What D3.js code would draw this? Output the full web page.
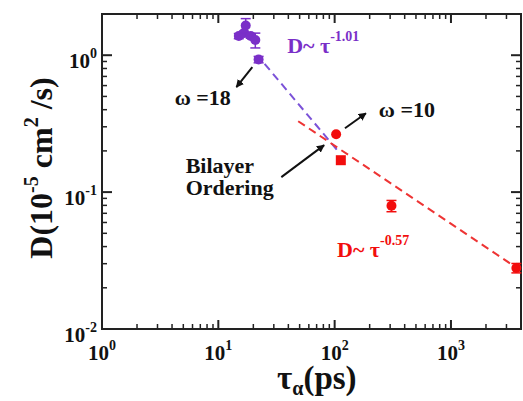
<!DOCTYPE html>
<html>
<head>
<meta charset="utf-8">
<script src="https://cdn.jsdelivr.net/npm/d3@7/dist/d3.min.js"></script>
<style>
  html, body { margin: 0; padding: 0; background: #fff; }
  svg { display: block; }
</style>
</head>
<body>
<svg id="chart" width="523" height="401"></svg>
<script>
// Diffusion coefficient D versus alpha-relaxation time for two systems
const tauPurple = [15.0, 16.6, 17.2, 19.0, 20.8, 22.2];
const dPurple   = [1.38, 1.45, 1.65, 1.38, 1.29, 0.93];
const errPurple = [0.06, 0.05, 0.20, 0.05, 0.16, 0.05];

const tauRed   = [103, 113, 308, 3650];
const dRed     = [0.265, 0.171, 0.0794, 0.0279];
const errRed   = [0, 0, 0.0075, 0.0022];
const shapeRed = ["circle", "square", "circle", "circle"];

// Power-law fits D ~ tau^exponent, drawn over [tauStart, tauEnd]
const fitExponents = [-1.01, -0.57];
const fitLogPrefactor = [1.349, 0.479];
const fitRanges = [[25, 105], [48.6, 3600]];

const xTickValues = [1, 10, 100, 1000];
const xTickExps = ["0", "1", "2", "3"];
const yTickValues = [0.01, 0.1, 1];
const yTickExps = ["-2", "-1", "0"];

const FONT = "'Liberation Serif', 'Times New Roman', serif";
const purple = "#7a2fc8";
const purpleLine = "#7b52d8";
const red = "#f20d0d";
const redLine = "#ee3434";
const ink = "#111";

const svg = d3.select("#chart")
  .style("font-family", FONT).style("font-weight", "bold");
const x = d3.scaleLog().domain([1, 4000]).range([102, 521]);
const y = d3.scaleLog().domain([0.01, 2]).range([329, 14]);

function newText(sel) {
  return sel.append("text").attr("font-family", FONT).attr("font-weight", "bold");
}

// minor tick positions inside the domain
function minorTicks(lo, hi) {
  const out = [];
  for (let e = Math.floor(Math.log10(lo)); e <= Math.ceil(Math.log10(hi)); e++) {
    for (let m = 2; m <= 9; m++) {
      const v = m * Math.pow(10, e);
      if (v > lo && v <= hi) out.push(v);
    }
  }
  return out;
}

const frame = svg.append("g");
const xMin = minorTicks(1, 4000), yMin = minorTicks(0.01, 2);
const tickColor = "#222";
// bottom and top ticks (pointing inward)
[[329, -1], [14, 1]].forEach(([y0, dir]) => {
  frame.selectAll(null).data(xTickValues).enter().append("line")
    .attr("x1", d => x(d)).attr("x2", d => x(d))
    .attr("y1", y0).attr("y2", y0 + dir * 9)
    .attr("stroke", tickColor).attr("stroke-width", 2);
  frame.selectAll(null).data(xMin).enter().append("line")
    .attr("x1", d => x(d)).attr("x2", d => x(d))
    .attr("y1", y0).attr("y2", y0 + dir * 5)
    .attr("stroke", tickColor).attr("stroke-width", 1.5);
});
// left and right ticks
[[102, 1], [521, -1]].forEach(([x0, dir]) => {
  frame.selectAll(null).data(yTickValues).enter().append("line")
    .attr("y1", d => y(d)).attr("y2", d => y(d))
    .attr("x1", x0).attr("x2", x0 + dir * 10)
    .attr("stroke", tickColor).attr("stroke-width", 2);
  frame.selectAll(null).data(yMin).enter().append("line")
    .attr("y1", d => y(d)).attr("y2", d => y(d))
    .attr("x1", x0).attr("x2", x0 + dir * 5)
    .attr("stroke", tickColor).attr("stroke-width", 1.5);
});
frame.append("rect")
  .attr("x", 102).attr("y", 14).attr("width", 419).attr("height", 315)
  .attr("fill", "none").attr("stroke", tickColor).attr("stroke-width", 2);

// tick labels as 10^n
xTickValues.forEach((v, i) => {
  const t = newText(svg).attr("x", x(v) - 14).attr("y", 360)
    .attr("font-size", 21).attr("fill", ink);
  t.append("tspan").text("10");
  t.append("tspan").attr("dy", -10).attr("font-size", 14).text(xTickExps[i]);
});
yTickValues.forEach((v, i) => {
  const t = newText(svg).attr("x", 97).attr("y", y(v) + 13)
    .attr("font-size", 21).attr("fill", ink).attr("text-anchor", "end");
  t.append("tspan").text("10");
  t.append("tspan").attr("dy", -10).attr("font-size", 14).text(yTickExps[i]);
});

// axis titles
const yt = newText(svg)
  .attr("transform", "translate(52,168) rotate(-90)")
  .attr("text-anchor", "middle").attr("font-size", 32).attr("fill", ink);
yt.append("tspan").text("D(10");
yt.append("tspan").attr("dy", -14).attr("font-size", 20).text("-5");
yt.append("tspan").attr("dy", 14).text(" cm");
yt.append("tspan").attr("dy", -14).attr("font-size", 20).text("2");
yt.append("tspan").attr("dy", 14).text(" /s)");

const xt = newText(svg).attr("x", 277).attr("y", 389)
  .attr("font-size", 33).attr("fill", ink);
xt.append("tspan").text("τ");
xt.append("tspan").attr("dy", 6).attr("font-size", 20).text("α");
xt.append("tspan").attr("dy", -6).text("(ps)");

// fit lines
const fitColors = [purpleLine, redLine];
fitExponents.forEach((k, i) => {
  const [a, b] = fitRanges[i];
  const f = t => Math.pow(10, fitLogPrefactor[i] + k * Math.log10(t));
  svg.append("line")
    .attr("x1", x(a)).attr("y1", y(f(a)))
    .attr("x2", x(b)).attr("y2", y(f(b)))
    .attr("stroke", fitColors[i]).attr("stroke-width", 2)
    .attr("stroke-dasharray", "8,5");
});

// error bars + markers
function drawSeries(taus, ds, errs, shapes, color) {
  const g = svg.append("g");
  taus.forEach((t, i) => {
    const cx = x(t), cy = y(ds[i]);
    if (errs[i] > 0) {
      const y1 = y(ds[i] + errs[i]), y2 = y(ds[i] - errs[i]);
      g.append("line").attr("x1", cx).attr("x2", cx).attr("y1", y1).attr("y2", y2)
        .attr("stroke", color).attr("stroke-width", 1.5);
      [y1, y2].forEach(yy => g.append("line")
        .attr("x1", cx - 5).attr("x2", cx + 5).attr("y1", yy).attr("y2", yy)
        .attr("stroke", color).attr("stroke-width", 1.5));
    }
    if (shapes[i] === "square") {
      g.append("rect").attr("x", cx - 5).attr("y", cy - 5)
        .attr("width", 10).attr("height", 10).attr("fill", color);
    } else {
      g.append("circle").attr("cx", cx).attr("cy", cy).attr("r", 5).attr("fill", color);
    }
  });
}
drawSeries(tauPurple, dPurple, errPurple, tauPurple.map(() => "circle"), purple);
drawSeries(tauRed, dRed, errRed, shapeRed, red);

// annotation arrows: [tauFrom, dFrom, tauTo, dTo]
const arrows = [
  [19.6, 0.817, 14.3, 0.584],
  [122.7, 0.293, 185.8, 0.377],
  [34.8, 0.1287, 81.2, 0.2204]
];
svg.append("defs").append("marker")
  .attr("id", "head").attr("viewBox", "0 0 10 10").attr("refX", 9).attr("refY", 5)
  .attr("markerWidth", 8).attr("markerHeight", 8).attr("markerUnits", "userSpaceOnUse")
  .attr("orient", "auto")
  .append("path").attr("d", "M0,0 L10,5 L0,10 Z").attr("fill", ink);
arrows.forEach(a => {
  svg.append("line")
    .attr("x1", x(a[0])).attr("y1", y(a[1]))
    .attr("x2", x(a[2])).attr("y2", y(a[3]))
    .attr("stroke", ink).attr("stroke-width", 2)
    .attr("marker-end", "url(#head)");
});

// text annotations
function label(tau, d, parts, color, size) {
  const t = newText(svg).attr("x", x(tau)).attr("y", y(d))
    .attr("font-size", size).attr("fill", color);
  parts.forEach(p => {
    const s = t.append("tspan").text(p.text);
    if (p.sup) s.attr("dy", -12).attr("font-size", 14);
  });
  return t;
}
label(4.22, 0.431, [{text: "ω =18"}], ink, 22);
label(240, 0.353, [{text: "ω =10"}], ink, 22);
label(5.24, 0.1376, [{text: "Bilayer"}], ink, 22);
label(5.24, 0.0951, [{text: "Ordering"}], ink, 22);
label(39.1, 1.034, [{text: "D~ τ"}, {text: "-1.01", sup: true}], purple, 22);
label(104.8, 0.0335, [{text: "D~ τ"}, {text: "-0.57", sup: true}], red, 22);
</script>
</body>
</html>
